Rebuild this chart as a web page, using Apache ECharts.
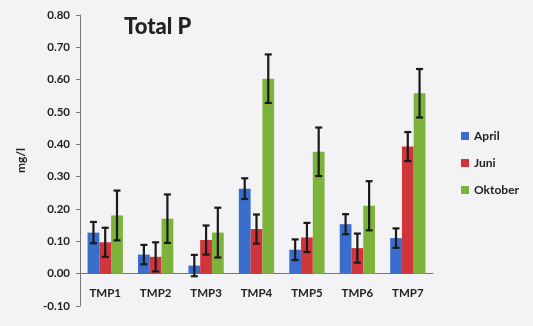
<!DOCTYPE html>
<html><head><meta charset="utf-8">
<script src="https://cdn.jsdelivr.net/npm/echarts@6/dist/echarts.min.js"></script>
<style>html,body{margin:0;padding:0;background:#f3f3f5}#c{width:533px;height:326px}</style>
</head><body><div id="c"></div>
<script>
const categories = ['TMP1','TMP2','TMP3','TMP4','TMP5','TMP6','TMP7'];
const seriesNames = ['April','Juni','Oktober'];
const april   = [0.127, 0.059, 0.025, 0.263, 0.074, 0.153, 0.110];
const juni    = [0.097, 0.052, 0.104, 0.138, 0.112, 0.079, 0.393];
const oktober = [0.180, 0.170, 0.127, 0.603, 0.377, 0.210, 0.558];
const aprilErr   = [0.033, 0.030, 0.033, 0.032, 0.032, 0.031, 0.030];
const juniErr    = [0.045, 0.045, 0.045, 0.045, 0.045, 0.045, 0.045];
const oktoberErr = [0.077, 0.075, 0.077, 0.075, 0.075, 0.076, 0.075];
const colors = ['#3a6dcc', '#d0353c', '#7db33a'];

const values = [april, juni, oktober];
const errs = [aprilErr, juniErr, oktoberErr];
const font = 'Lato, "Open Sans", sans-serif';

const series = [];
values.forEach((v, i) => {
  series.push({
    name: seriesNames[i], type: 'bar', data: v, barGap: '0%', barCategoryGap: '30%',
    itemStyle: { color: colors[i] }
  });
});
values.forEach((v, i) => {
  series.push({
    type: 'custom', name: seriesNames[i] + ' err', silent: true, z: 10,
    data: v.map((val, k) => [k, val, errs[i][k]]),
    renderItem: function (params, api) {
      const k = api.value(0), val = api.value(1), e = api.value(2);
      const catW = api.size([1, 0])[0];
      const bw = catW * 0.7 / 3;
      const off = (i - 1) * bw;
      const hi = api.coord([k, val + e]);
      const lo = api.coord([k, val - e]);
      const x = hi[0] + off;
      const cap = 3.5;
      const st = { stroke: '#1a1a1a', lineWidth: 2.2 };
      return { type: 'group', children: [
        { type: 'line', shape: { x1: x, y1: hi[1], x2: x, y2: lo[1] }, style: st },
        { type: 'line', shape: { x1: x - cap, y1: hi[1], x2: x + cap, y2: hi[1] }, style: st },
        { type: 'line', shape: { x1: x - cap, y1: lo[1], x2: x + cap, y2: lo[1] }, style: st }
      ]};
    }
  });
});

const chart = echarts.init(document.getElementById('c'));
chart.setOption({
  backgroundColor: '#f3f3f5',
  animation: false,
  title: { text: 'Total P', left: 119, top: 11,
    textStyle: { fontFamily: font, fontWeight: 900, fontSize: 22, color: '#222' } },
  legend: {
    data: seriesNames, orient: 'vertical', left: 456, top: 125,
    icon: 'rect', itemWidth: 8, itemHeight: 8, itemGap: 15,
    textStyle: { fontFamily: font, fontWeight: 'bold', fontSize: 12, color: '#222' }
  },
  grid: { left: 80, right: 100, top: 15, bottom: 20, containLabel: false, outerBoundsMode: 'none' },
  xAxis: {
    type: 'category', data: categories,
    axisLine: { onZero: true, lineStyle: { color: '#777' } },
    axisTick: { length: 4, lineStyle: { color: '#777' } },
    axisLabel: { margin: -19, fontFamily: font, fontWeight: 'bold', fontSize: 11.5, color: '#222' }
  },
  yAxis: {
    type: 'value', min: -0.1, max: 0.8, interval: 0.1,
    name: 'mg/l', nameLocation: 'middle', nameGap: 53, nameRotate: 90,
    nameTextStyle: { fontFamily: font, fontWeight: 'bold', fontSize: 12, color: '#222' },
    axisLine: { show: true, lineStyle: { color: '#777' } },
    axisTick: { show: true, length: 4, lineStyle: { color: '#777' } },
    splitLine: { show: false },
    axisLabel: { margin: 10, fontFamily: font, fontWeight: 'bold', fontSize: 11.5, color: '#222',
      formatter: v => v.toFixed(2) }
  },
  series: series
});
</script></body></html>
